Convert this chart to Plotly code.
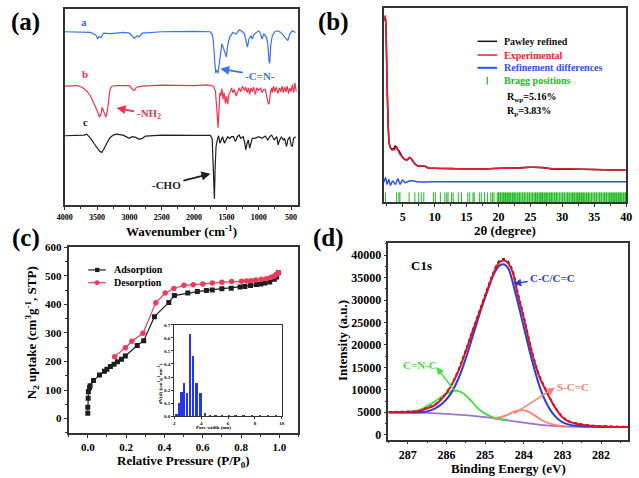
import plotly.graph_objects as go

W, H = 639, 478
FONT = "Liberation Serif"


def px(x):
    return x / W


def py(y):
    return 1 - y / H


# ---------------- (a) FTIR ----------------
wn_a = [4000, 3700, 3600, 3520, 3490, 3470, 3440, 3400, 3300, 3200, 3100, 3000, 2950, 2920, 2880, 2850, 2800, 2500, 2000, 1750,
        1720, 1700, 1680, 1665, 1650, 1630, 1610, 1590, 1570, 1550, 1520, 1500, 1480, 1450, 1400, 1350, 1300, 1250, 1220, 1190,
        1175, 1150, 1120, 1100, 1070, 1000, 970, 950, 920, 880, 860, 840, 830, 815, 790, 750, 700, 660, 620, 580, 550, 520, 480, 430]
t_a = [532, 532, 530, 522, 510, 518, 514, 528, 526, 528, 530, 528, 518, 512, 520, 516, 528, 532, 533, 532,
       525, 500, 440, 405, 415, 405, 435, 470, 495, 485, 465, 455, 490, 515, 530, 525, 538, 532, 525, 500,
       485, 510, 520, 510, 525, 535, 525, 510, 525, 515, 495, 440, 435, 490, 520, 532, 535, 530, 520, 510, 505, 525, 535, 530]

wn_b = [4000, 3800, 3720, 3650, 3600, 3550, 3500, 3460, 3440, 3420, 3400, 3365, 3340, 3320, 3300, 3270, 3200, 3000, 2950, 2920,
        2890, 2800, 2500, 2000, 1800, 1700, 1670, 1650, 1630, 1615, 1600, 1585, 1570, 1550, 1535, 1515, 1500, 1480, 1460, 1440,
        1420, 1400, 1380, 1350, 1320, 1300, 1280, 1250, 1220, 1200, 1180, 1160, 1140, 1120, 1100, 1080, 1050, 1030, 1000, 970,
        950, 920, 900, 880, 850, 835, 820, 800, 790, 770, 750, 730, 700, 680, 660, 640, 620, 600, 580, 560,
        540, 520, 500, 480, 460, 440, 420]
t_b = [365, 367, 360, 348, 335, 315, 290, 270, 280, 300, 290, 270, 290, 330, 355, 365, 367, 367, 355, 352,
       362, 365, 368, 367, 369, 365, 350, 300, 238, 290, 345, 335, 358, 325, 345, 312, 335, 310, 342, 348,
       360, 345, 355, 335, 352, 360, 348, 365, 352, 362, 345, 360, 340, 360, 348, 362, 340, 360, 352, 360,
       345, 355, 355, 335, 310, 315, 345, 360, 345, 365, 348, 362, 342, 360, 348, 365, 345, 362, 348, 365,
       342, 360, 348, 370, 345, 375, 348]

wn_c = [4000, 3700, 3660, 3600, 3550, 3500, 3460, 3430, 3400, 3350, 3300, 3250, 3200, 3100, 3050, 3000, 2960, 2900, 2850, 2800,
        2750, 2500, 2000, 1750, 1720, 1700, 1685, 1675, 1660, 1640, 1620, 1600, 1580, 1560, 1530, 1500, 1480, 1450, 1420, 1390,
        1360, 1330, 1300, 1280, 1240, 1220, 1200, 1180, 1160, 1140, 1120, 1100, 1060, 1000, 950, 900, 860, 830, 800, 760,
        720, 700, 680, 650, 620, 600, 570, 550, 520, 500, 480, 460, 430]
t_c = [213, 215, 218, 205, 190, 175, 165, 162, 170, 190, 207, 215, 218, 215, 210, 205, 210, 208, 202, 205,
       212, 215, 214, 214, 205, 100, 20, 110, 180, 200, 213, 190, 200, 210, 190, 200, 210, 205, 210, 210,
       195, 210, 215, 205, 210, 195, 170, 190, 200, 175, 190, 205, 205, 210, 205, 212, 200, 210, 215, 200,
       210, 185, 198, 210, 200, 205, 180, 200, 210, 185, 180, 205, 210]
wn_ticks = [4000, 3500, 3000, 2500, 2000, 1500, 1000, 500]

# ---------------- (b) PXRD ----------------
tt_exp = [2.15, 2.26, 2.36, 2.46, 2.56, 2.67, 2.77, 2.92, 3.18, 3.54, 3.84, 4.05, 4.25, 4.46, 4.66, 4.87, 5.07, 5.38, 5.74, 6.10,
          6.40, 6.76, 7.12, 7.53, 8.04, 8.45, 9.07, 10.1, 12.6, 17.8, 20.3, 22.9, 24.9, 27.0, 28.0, 33.1, 40.0]
i_exp = [555, 570, 540, 450, 350, 270, 210, 175, 162, 160, 163, 170, 160, 150, 145, 140, 135, 130, 130, 138,
         132, 122, 114, 110, 112, 110, 105, 104, 103, 102, 104, 105, 107, 106, 103, 101, 98]
i_calc = [555, 570, 540, 452, 352, 272, 212, 178, 165, 163, 172, 168, 160, 156, 148, 141, 136, 131, 131, 137,
          131, 121, 114, 110, 111, 110, 105, 104, 103, 102, 104, 105, 107, 106, 103, 101, 98]
tt_diff = [2.05, 2.31, 2.56, 2.82, 3.08, 3.43, 3.84, 4.25, 4.56, 4.97, 5.38, 6.0, 6.76, 7.53, 10, 20, 30, 40]
i_diff = [62, 75, 55, 70, 52, 65, 55, 72, 55, 68, 60, 65, 65, 62, 63, 63, 63, 63]
bragg = [2.3, 4.05, 4.4, 4.56, 6.0, 6.9, 7.5, 7.9, 8.3, 9.8, 10.1, 10.9, 11.6, 11.9, 12.1, 12.65, 12.9, 13.7, 14.2, 15.2,
         15.5, 16.0, 16.2, 17.0, 17.3, 17.8, 18.3, 18.8, 19.05, 19.3, 19.8, 20.0, 20.1, 20.3, 20.4, 20.6, 20.8, 20.9, 21.1, 21.3,
         21.4, 21.6, 21.7, 21.9, 22.1, 22.2, 22.4, 22.5, 22.7, 22.9, 23.0, 23.2, 23.3, 23.5, 23.7, 23.8, 24.0, 24.1, 24.3, 24.5,
         24.6, 24.8, 24.9, 25.1, 25.3, 25.4, 25.6, 25.8, 25.9, 26.1, 26.2, 26.4, 26.6, 26.7, 26.9, 27.0, 27.2, 27.4, 27.5, 27.7,
         27.9, 28.0, 28.2, 28.3, 28.5, 28.7, 28.8, 29.0, 29.1, 29.3, 29.5, 29.6, 29.8, 30.0, 30.1, 30.3, 30.4, 30.6, 30.8, 30.9,
         31.1, 31.2, 31.4, 31.6, 31.7, 31.9, 32.0, 32.2, 32.4, 32.5, 32.7, 32.9, 33.0, 33.2, 33.3, 33.5, 33.7, 33.8, 34.0, 34.1,
         34.3, 34.5, 34.6, 34.8, 35.0, 35.1, 35.3, 35.4, 35.6, 35.8, 35.9, 36.1, 36.2, 36.4, 36.6, 36.7, 36.9, 37.0, 37.2, 37.4,
         37.5, 37.7, 37.9, 38.0, 38.2, 38.3, 38.5, 38.7, 38.8, 39.0, 39.1, 39.3, 39.5, 39.6, 39.8, 39.9]
bragg_level = 13

# ---------------- (c) N2 isotherm ----------------
p_ads = [0.0, 0.0, 0.002, 0.003, 0.009, 0.012, 0.03, 0.061, 0.087, 0.10, 0.118, 0.137, 0.155, 0.176, 0.196, 0.258, 0.292, 0.348,
         0.423, 0.452, 0.522, 0.572, 0.619, 0.65, 0.70, 0.749, 0.795, 0.82, 0.85, 0.88, 0.903, 0.925, 0.95, 0.974, 0.986, 0.995]
v_ads = [19, 40, 71, 94, 108, 115, 133, 153, 166, 173, 182, 190, 199, 208, 219, 256, 273, 357,
         407, 431, 440, 445, 449, 451, 455, 457, 461, 463, 466, 470, 472, 475, 479, 488, 496, 511]
p_des = [0.995, 0.983, 0.973, 0.956, 0.933, 0.906, 0.877, 0.853, 0.829, 0.802, 0.751, 0.70, 0.65, 0.60, 0.551, 0.502,
         0.449, 0.404, 0.355, 0.288, 0.23, 0.196, 0.14]
v_des = [511, 505, 499, 495, 490, 488, 486, 483, 482, 481, 480, 478, 475, 472, 469, 467,
         456, 440, 406, 299, 271, 248, 217]
pore = [2.2, 2.4, 2.58, 2.78, 2.98, 3.2, 3.44, 3.7, 4.0, 4.32, 4.68, 5.1, 5.6, 6.1, 6.6, 7.2, 7.8, 8.4, 9.0, 9.6]
dvd = [0.02, 0.1, 0.185, 0.255, 0.18, 0.63, 0.465, 0.255, 0.175, 0.022, 0.008, 0.005, 0.004, 0.003, 0.003, 0.002, 0.002,
       0.002, 0.002, 0.002]

# ---------------- (d) XPS C1s ----------------
e_env = [287.5, 287.0, 286.7, 286.5, 286.3, 286.1, 285.9, 285.7, 285.5, 285.3, 285.1, 284.95, 284.8, 284.65, 284.55, 284.45,
         284.3, 284.15, 284.0, 283.8, 283.6, 283.4, 283.2, 283.0, 282.8, 282.5, 282.2, 281.8, 281.3]
i_env = [5000, 5100, 5300, 5900, 6600, 8200, 10600, 14000, 18600, 23600, 28400, 32000, 35500, 38200, 38800, 38600,
         36500, 31000, 26000, 18600, 13000, 9400, 6200, 3900, 2800, 2250, 1950, 1800, 1700]
i_raw = [5050, 5150, 5250, 6000, 6700, 8300, 10700, 14200, 18800, 23800, 28600, 32300, 35800, 38500, 39100, 38900,
         36800, 31400, 26300, 18900, 13200, 9500, 6300, 4000, 2900, 2300, 2000, 1850, 1750]
e_cc = [287.5, 287.0, 286.7, 286.5, 286.3, 286.1, 285.9, 285.7, 285.5, 285.3, 285.1, 284.9, 284.75, 284.6, 284.5, 284.4,
        284.2, 284.0, 283.8, 283.6, 283.4, 283.2, 283.0, 282.8, 282.5, 282.2, 281.8, 281.3]
i_cc = [5000, 4950, 5000, 5200, 5800, 7000, 9000, 12300, 17000, 22500, 28000, 33000, 36200, 37800, 37900, 37000,
        31000, 24000, 17000, 11000, 6800, 4200, 2800, 2200, 1900, 1800, 1750, 1700]
e_cn = [287.5, 287.0, 286.8, 286.6, 286.4, 286.2, 286.0, 285.8, 285.6, 285.4, 285.2, 285.0, 284.8, 284.6, 284.4]
i_cn = [5000, 5050, 5300, 5900, 6900, 8000, 9100, 9800, 9400, 7900, 6000, 4700, 3900, 3500, 3300]
e_sc = [284.8, 284.6, 284.4, 284.2, 284.05, 283.9, 283.7, 283.5, 283.3, 283.1, 282.9]
i_sc = [3700, 3900, 4500, 5300, 5500, 5200, 4200, 3100, 2400, 2000, 1850]
e_bg = [287.5, 287.0, 286.5, 286.0, 285.5, 285.0, 284.5, 284.0, 283.5, 283.0, 282.5, 282.0, 281.3]
i_bg = [5000, 4950, 4850, 4650, 4350, 3900, 3300, 2700, 2150, 1850, 1750, 1720, 1700]

# ---------------- colours ----------------
BLUE_A, RED_A, BLK = "#3a70f0", "#f2334d", "#1e1e1e"
RED_B, BLUE_B, GREEN_B = "#ee1c2e", "#2f4ff0", "#22b722"
RED_C = "#f03a5a"
RED_D, BLUE_D, GREEN_D, SALMON_D, PURPLE_D = "#e8101c", "#2b3de0", "#3ee03e", "#ff8070", "#a070d0"
FRAME = "#333333"

fig = go.Figure()

# (a)
fig.add_trace(go.Scatter(x=wn_c, y=t_c, mode="lines", line=dict(color=BLK, width=1.2), xaxis="x", yaxis="y"))
fig.add_trace(go.Scatter(x=wn_b, y=t_b, mode="lines", line=dict(color=RED_A, width=1.2), xaxis="x", yaxis="y"))
fig.add_trace(go.Scatter(x=wn_a, y=t_a, mode="lines", line=dict(color=BLUE_A, width=1.2), xaxis="x", yaxis="y"))

# (b)
fig.add_trace(go.Scatter(x=tt_diff, y=i_diff, mode="lines", line=dict(color=BLUE_B, width=1.5, shape="spline"),
                         xaxis="x2", yaxis="y2"))
fig.add_trace(go.Scatter(x=bragg, y=[bragg_level] * len(bragg), mode="markers",
                         marker=dict(symbol="line-ns", size=8, line=dict(width=1, color=GREEN_B)),
                         xaxis="x2", yaxis="y2"))
fig.add_trace(go.Scatter(x=tt_exp, y=i_calc, mode="lines", line=dict(color="#111111", width=1.6, shape="spline"),
                         xaxis="x2", yaxis="y2"))
fig.add_trace(go.Scatter(x=tt_exp, y=i_exp, mode="lines", line=dict(color=RED_B, width=1.5, shape="spline"),
                         xaxis="x2", yaxis="y2"))

# (c)
fig.add_trace(go.Scatter(x=p_ads, y=v_ads, mode="lines+markers", line=dict(color=BLK, width=1.2),
                         marker=dict(symbol="square", size=5, color=BLK), xaxis="x3", yaxis="y3"))
fig.add_trace(go.Scatter(x=p_des, y=v_des, mode="lines+markers", line=dict(color=RED_C, width=1.2),
                         marker=dict(symbol="circle", size=5.5, color=RED_C), xaxis="x3", yaxis="y3"))
fig.add_trace(go.Bar(x=pore, y=dvd, width=0.14, marker=dict(color="#2236ee", line=dict(width=0)),
                     xaxis="x5", yaxis="y5"))

# (d)
fig.add_trace(go.Scatter(x=e_bg, y=i_bg, mode="lines", line=dict(color=PURPLE_D, width=1.8, shape="spline"),
                         xaxis="x4", yaxis="y4"))
fig.add_trace(go.Scatter(x=e_cn, y=i_cn, mode="lines", line=dict(color=GREEN_D, width=1.8, shape="spline"),
                         xaxis="x4", yaxis="y4"))
fig.add_trace(go.Scatter(x=e_sc, y=i_sc, mode="lines", line=dict(color=SALMON_D, width=1.8, shape="spline"),
                         xaxis="x4", yaxis="y4"))
fig.add_trace(go.Scatter(x=e_cc, y=i_cc, mode="lines", line=dict(color=BLUE_D, width=2, shape="spline"),
                         xaxis="x4", yaxis="y4"))
fig.add_trace(go.Scatter(x=e_env, y=i_raw, mode="lines", line=dict(color="#222222", width=2, dash="dot", shape="spline"),
                         xaxis="x4", yaxis="y4"))
fig.add_trace(go.Scatter(x=e_env, y=i_env, mode="lines", line=dict(color=RED_D, width=2, shape="spline"),
                         xaxis="x4", yaxis="y4"))


def tfont(size):
    return dict(family=FONT, size=size, color="black", weight="bold")


def axis(dom, rng, anchor, size, **kw):
    d = dict(domain=dom, range=rng, anchor=anchor, showline=True, mirror=True, linecolor=FRAME, linewidth=1.5,
             ticks="outside", ticklen=3, tickwidth=1.2, tickcolor=FRAME, tickfont=tfont(size),
             showgrid=False, zeroline=False, fixedrange=True)
    d.update(kw)
    return d


def minor(dt, ln=2):
    return dict(ticks="outside", ticklen=ln, dtick=dt, tickcolor=FRAME, tickwidth=1)


noy = dict(showticklabels=False, ticks="")

fig.update_layout(
    width=W, height=H, margin=dict(l=0, r=0, t=0, b=0), paper_bgcolor="white", plot_bgcolor="white",
    showlegend=False, bargap=0, hovermode=False,
    xaxis=axis([px(58), px(296)], [4000, 400], "y", 8, tickvals=wn_ticks, minor=minor(250)),
    yaxis=axis([py(203), py(3)], [0, 602], "x", 8, **noy),
    xaxis2=axis([px(384), px(632)], [2, 40], "y2", 12, dtick=5, tick0=0, minor=minor(2.5)),
    yaxis2=axis([py(200), py(2)], [0, 595], "x2", 12, **noy),
    xaxis3=axis([px(62), px(297)], [-0.1, 1.1], "y3", 11, dtick=0.2, tick0=0, tickformat=".1f", minor=minor(0.1),
                linewidth=1.8),
    yaxis3=axis([py(435), py(246)], [-50, 600], "x3", 11, dtick=100, tick0=0, minor=minor(50), linewidth=1.8),
    xaxis4=axis([px(389), px(634)], [287.5, 281.3], "y4", 12, dtick=1, tick0=0, minor=minor(0.5)),
    yaxis4=axis([py(442), py(242)], [-1100, 42600], "x4", 12, dtick=5000, tick0=0, tickformat="d",
                minor=minor(2500)),
    xaxis5=axis([px(170), px(280)], [2, 10], "y5", 5, dtick=2, tick0=0, ticklen=2, linewidth=1, tickwidth=0.8),
    yaxis5=axis([py(418), py(325)], [0, 0.7], "x5", 5, dtick=0.1, tick0=0, tickformat=".1f", ticklen=2,
                linewidth=1, tickwidth=0.8),
)

ann = []


def txt(x, y, s, size, color="black", xanchor="center", angle=0):
    ann.append(dict(x=px(x), y=py(y), xref="paper", yref="paper", text=s, showarrow=False,
                    font=dict(family=FONT, size=size, color=color, weight="bold"),
                    xanchor=xanchor, yanchor="middle", textangle=angle))


def label_arrow(hx, hy, tx, ty, s, size, color, w=1.8):
    """Text centred at (tx, ty) with an arrow pointing from the text to (hx, hy)."""
    ann.append(dict(x=px(hx), y=py(hy), xref="paper", yref="paper", ax=tx - hx, ay=ty - hy,
                    axref="pixel", ayref="pixel", text=s, showarrow=True, arrowhead=2, arrowsize=1,
                    arrowwidth=w, arrowcolor=color, standoff=0, startstandoff=1,
                    font=dict(family=FONT, size=size, color=color, weight="bold")))


def arrow(hx, hy, tx, ty, color, w=1.8):
    ann.append(dict(x=px(hx), y=py(hy), xref="paper", yref="paper", ax=tx - hx, ay=ty - hy,
                    axref="pixel", ayref="pixel", text="", showarrow=True, arrowhead=2, arrowsize=1,
                    arrowwidth=w, arrowcolor=color, standoff=0, startstandoff=0))


# panel letters
txt(18, 16, "(a)", 25)
txt(333, 16, "(b)", 25)
txt(18, 236, "(c)", 25)
txt(328, 236, "(d)", 25)

# (a) texts
txt(78, 16, "a", 11, BLUE_A)
txt(79, 69, "b", 11, RED_A)
txt(79, 118, "c", 11, BLK)
label_arrow(217, 64, 257, 71, "-C=N-", 11, BLUE_A)
label_arrow(111, 104, 143, 110, "-NH<sub>2</sub>", 11, RED_A)
label_arrow(207, 171, 163, 182, "-CHO", 11, BLK)
txt(177, 229, "Wavenumber (cm<sup>-1</sup>)", 13)

# (b) texts
leg_b = [("Pawley refined", "#111111", 36), ("Experimental", RED_B, 50),
         ("Refinement differences", BLUE_B, 63), ("Bragg positions", GREEN_B, 76)]
for name, col, yy in leg_b:
    txt(505, yy, name, 10, col, xanchor="left")
txt(508, 93, "R<sub>wp</sub>=5.16%", 10, xanchor="left")
txt(508, 108, "R<sub>p</sub>=3.83%", 10, xanchor="left")
txt(508, 229, "2θ (degree)", 13)

# (c) texts
txt(106, 269, "Adsorption", 10, xanchor="left")
txt(106, 282, "Desorption", 10, xanchor="left")
txt(179, 464, "Relative Pressure (P/P<sub>0</sub>)", 13)
txt(24, 333, "N<sub>2</sub> uptake (cm<sup>3</sup>g<sup>-1</sup>, STP)", 13, angle=-90)
txt(210, 430, "Pore width (nm)", 5)
txt(155, 385, "dV(d) (cm<sup>3</sup>g<sup>-1</sup>nm<sup>-1</sup>)", 5, angle=-90)

# (d) texts
txt(423, 264, "C1s", 13)
label_arrow(517, 283, 556, 277, "C-C/C=C", 11, BLUE_D, 1.5)
txt(421, 366, "C=N-C", 11, GREEN_D)
txt(578, 388, "S-C=C", 11, SALMON_D)
arrow(438, 368, 457, 393, GREEN_D, 1.5)
arrow(559, 389, 517, 416, SALMON_D, 1.5)
txt(512, 471, "Binding Energy (eV)", 13)
txt(342, 341, "Intensity (a.u.)", 13, angle=-90)

fig.update_layout(annotations=ann)

# legend samples drawn as shapes
shapes = []


def hline(x0, x1, y, color, w=1.5):
    shapes.append(dict(type="line", xref="paper", yref="paper", x0=px(x0), x1=px(x1), y0=py(y), y1=py(y),
                       line=dict(color=color, width=w)))


hline(480, 500, 36, "#111111")
hline(480, 500, 50, RED_B)
hline(480, 500, 63, BLUE_B, 2)
shapes.append(dict(type="line", xref="paper", yref="paper", x0=px(490), x1=px(490), y0=py(72), y1=py(80),
                   line=dict(color=GREEN_B, width=1.2)))
hline(82, 100, 269, BLK, 1.2)
hline(82, 100, 282, RED_C, 1.2)
shapes.append(dict(type="rect", xref="paper", yref="paper", x0=px(89), x1=px(93.5), y0=py(271.2), y1=py(266.8),
                   fillcolor=BLK, line=dict(width=0)))
shapes.append(dict(type="circle", xref="paper", yref="paper", x0=px(88.5), x1=px(93.5), y0=py(284.5), y1=py(279.5),
                   fillcolor=RED_C, line=dict(width=0)))
fig.update_layout(shapes=shapes)

fig.write_html("out.html", config={"displayModeBar": False},
               post_script="document.body.style.margin='0px';")
